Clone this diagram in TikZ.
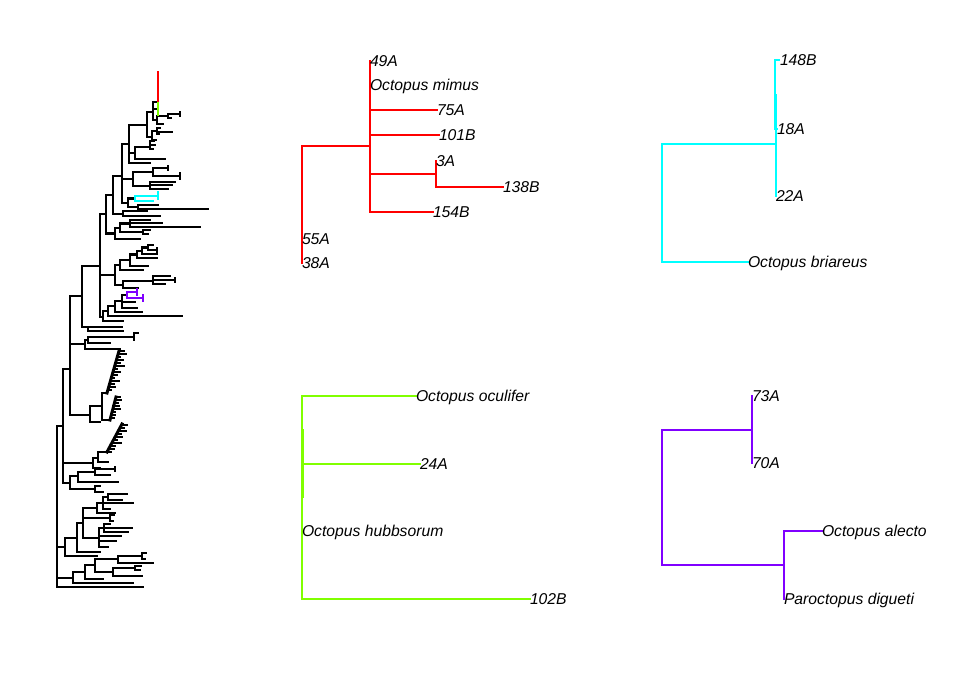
\documentclass[tikz,border=0pt]{standalone}
\usepackage{fontspec}
\setmainfont{Liberation Sans}
\definecolor{tred}{HTML}{FF0000}
\definecolor{tgreen}{HTML}{80FF00}
\definecolor{tcyan}{HTML}{00FFFF}
\definecolor{tpurple}{HTML}{8000FF}
\tikzset{
  br/.style={line width=2pt, line cap=rect},
  mbr/.style={line width=2.3pt, line cap=rect},
  lab/.style={anchor=base west, inner sep=0pt, outer sep=0pt,
    font=\fontsize{15.7}{18}\selectfont\itshape, yshift=-5.6pt},
}
\begin{document}
\begin{tikzpicture}[x=1pt,y=-1pt]
\useasboundingbox (0,0) rectangle (960,672);

% ================= main tree (left) =================
\begin{scope}[mbr,black]
\foreach \y/\a/\b in {
 587/57/143, 578/57/73, 583/73/133, 572/73/85, 579/85/103, 565/85/95,
 559/95/118, 572/95/113, 556/118/142, 563/118/153, 553/142/146, 559/142/145,
 568/113/135, 576/113/142, 566/135/141, 570/135/140,
 547/57/65, 556/65/97, 538/65/77, 552/77/100, 523/77/83, 508/83/97,
 518/83/110, 515/110/114, 521/110/113, 538/83/99, 513/97/115, 503/97/133,
 509/103/110, 497/103/108, 494/108/127, 500/108/122, 528/99/104, 536/99/121,
 541/99/116, 547/99/108, 524/104/110, 528/104/132, 532/104/128,
 426/57/63, 483/63/70, 476/70/78, 472/78/95, 469/95/115, 475/95/110,
 482/78/118, 489/70/95, 486/95/100, 492/95/103,
 463/63/93, 468/93/100, 458/93/98, 462/98/108, 452/98/107,
 369/63/70, 344/70/85, 349/85/120, 340/85/88, 337/88/134, 333/134/138, 343/88/110,
 415/70/90, 422/90/100, 406/90/102, 393/102/107, 420/102/110,
 296/70/82, 327/82/122, 331/88/123, 266/82/100,
 317/100/103, 321/103/123, 311/103/108, 316/108/182, 306/108/115,
 312/115/142, 301/115/122, 308/122/137, 302/122/135, 295/122/127,
 275/100/115, 265/115/120, 260/120/130, 270/120/143, 254.5/130/137,
 266/130/148, 251/137/142, 258/137/157, 247.5/142/148, 254/142/157,
 245/148/153, 250/148/157,
 285/115/123, 281/123/153, 288/123/138, 276/153/170, 280/153/175, 284/153/165,
 214/100/106, 195/106/113, 233.5/106/115, 228/115/120, 239/115/140,
 223.5/120/130, 220/130/150, 223/130/162, 227/130/200, 232/120/143,
 230/143/150, 234/143/148,
 214/113/123, 211/123/147, 216/123/160, 176/113/122,
 203/122/128, 198.5/128/135, 207/128/138, 205/138/158, 209/138/208,
 179/122/133, 172/133/153, 168/153/168, 176/153/180, 186/133/150,
 182/150/175, 185/150/172, 189/150/168,
 144/122/129, 125/129/147, 153/129/135, 163/129/150, 147/135/150,
 159/135/165, 141/150/154, 145/150/155, 149/150/153,
 112/147/153, 102/153/158, 109/153/156, 120/153/157, 116/157/168,
 114/168/180, 118/168/171, 124/157/163,
 137/147/152, 131/152/157, 128/157/160, 132/157/172, 134/157/159, 140/152/156}
 {\draw (\a,\y) -- (\b,\y);}
\foreach \x/\a/\b in {
 57/426/587, 73/572/583, 85/565/579, 95/559/572, 118/556/563, 113/568/576,
 142/553/559, 135/566/570,
 65/538/556, 77/523/552, 83/508/538, 97/503/513, 103/497/509, 108/494/500,
 110/515/521, 99/528/547, 104/524/532,
 63/369/483, 70/476/489, 78/472/482, 95/469/475, 115/467/471, 95/486/492,
 93/458/468, 98/452/462,
 70/296/415, 85/340/349, 88/337/343, 134/333/340,
 90/406/422, 102/393/420,
 82/266/327, 88/327/331,
 100/214/317, 103/311/321, 108/306/316, 115/301/312, 122/295/308,
 115/265/285, 120/260/270, 130/254.5/266, 137/251/258, 142/247.5/254, 148/245/250,
 157/248/252, 123/281/288, 153/276/284, 175/278/282,
 106/195/233.5, 115/228/239, 120/223.5/232, 130/220/227, 143/230/234,
 113/176/214, 123/211/216,
 122/144/203, 128/198.5/207, 138/205/209,
 133/172/186, 153/168/176, 168/166/170, 180/173/179, 150/182/189,
 129/125/163, 135/147/159, 150/141/149,
 147/112/137, 153/102/120, 157/116/124, 168/114/118, 180/112/116,
 152/131/140, 157/128/134}
 {\draw (\x,\a) -- (\x,\b);}
% ladder clusters (dense groups of short tips)
\draw[line width=3pt] (119,351) -- (107,393);
\foreach \i/\l in {0/5,1/8,2/3,3/6,4/4,5/9,6/3,7/7,8/5,9/2,10/8,11/4,12/6,13/3}
 {\draw ({119-\i*0.85},{351+\i*3}) -- ++(\l,0);}
\draw[line width=3pt] (116,397) -- (110,420);
\foreach \i/\l in {0/4,1/6,2/3,3/5,4/7,5/3,6/4,7/3}
 {\draw ({116-\i*0.8},{397+\i*3}) -- ++(\l,0);}
\draw[line width=3pt] (122,424) -- (107,452);
\foreach \i/\l in {0/5,1/3,2/7,3/4,4/6,5/3,6/8,7/4,8/5,9/3}
 {\draw ({122-\i*1.6},{425+\i*3}) -- ++(\l,0);}
\end{scope}
% coloured clades in the main tree
\draw[br,tred,line width=2.8pt] (158,72) -- (158,101);
\draw[br,tgreen,line width=2.8pt] (158,103) -- (158,115);
\draw[mbr,tcyan] (135,196) -- (135,201) (135,196) -- (158,196) (158,192) -- (158,199) (135,201) -- (153,201);
\draw[mbr,tpurple] (127,292) -- (127,298) (127,292) -- (137,292) (137,289) -- (137,295)
  (127,298) -- (143,298) (143,295) -- (143,301);

% ================= red subtree =================
\begin{scope}[br,tred]
\coordinate (R0) at (302,146);
\coordinate (N1) at (370,146);
\coordinate (N2) at (436,174);
\coordinate (t55A) at (302,239);
\coordinate (t38A) at (302,263);
\coordinate (t49A) at (370,61);
\coordinate (tmim) at (370,85);
\coordinate (t75A) at (437,110);
\coordinate (t101B) at (439,135);
\coordinate (t154B) at (433,212);
\coordinate (t3A) at (436,161);
\coordinate (t138B) at (503,187);
\draw (R0) -- (N1);
\draw (R0) |- (t55A);
\draw (R0) |- (t38A);
\foreach \t in {t49A,tmim,t75A,t101B,N2,t154B} {\draw (N1) |- (\t);}
\draw (N2) |- (t3A);
\draw (N2) |- (t138B);
\end{scope}
\node[lab] (l49A) at (t49A) {49A};
\node[lab] (lmim) at (tmim) {Octopus mimus};
\node[lab] (l75A) at (t75A) {75A};
\node[lab] (l101B) at (t101B) {101B};
\node[lab] (l3A) at (t3A) {3A};
\node[lab] (l138B) at (t138B) {138B};
\node[lab] (l154B) at (t154B) {154B};
\node[lab] (l55A) at (t55A) {55A};
\node[lab] (l38A) at (t38A) {38A};

% ================= cyan subtree =================
\begin{scope}[br,tcyan]
\coordinate (C0) at (662,144);
\coordinate (C1) at (776,144);
\coordinate (C2) at (775,95);
\coordinate (t148B) at (779,60);
\coordinate (t18A) at (777,129);
\coordinate (t22A) at (776,196);
\coordinate (tbri) at (748,262);
\draw (C0) -- (C1);
\draw (C0) |- (tbri);
\draw (C1) |- (C2);
\draw (C1) |- (t22A);
\draw (C2) |- (t148B);
\draw (C2) |- (t18A);
\end{scope}
\node[lab] (l148B) at (780,60) {148B};
\node[lab] (l18A) at (t18A) {18A};
\node[lab] (l22A) at (t22A) {22A};
\node[lab] (lbri) at (tbri) {Octopus briareus};

% ================= green subtree =================
\begin{scope}[br,tgreen]
\coordinate (G0) at (302,464);
\coordinate (tocu) at (416,396);
\coordinate (t24A) at (420,464);
\coordinate (thub) at (302,531);
\coordinate (t102B) at (530,599);
\foreach \t in {tocu,t24A,thub,t102B} {\draw (G0) |- (\t);}
\draw (303,430) -- (303,497);
\end{scope}
\node[lab] (locu) at (tocu) {Octopus oculifer};
\node[lab] (l24A) at (t24A) {24A};
\node[lab] (lhub) at (thub) {Octopus hubbsorum};
\node[lab] (l102B) at (t102B) {102B};

% ================= purple subtree =================
\begin{scope}[br,tpurple]
\coordinate (P0) at (662,497);
\coordinate (P1) at (752,430);
\coordinate (P2) at (784,565);
\coordinate (t73A) at (752,396);
\coordinate (t70A) at (752,463);
\coordinate (tale) at (822,531);
\coordinate (tdig) at (784,599);
\draw (P0) |- (P1);
\draw (P0) |- (P2);
\draw (P1) |- (t73A);
\draw (P1) |- (t70A);
\draw (P2) |- (tale);
\draw (P2) |- (tdig);
\end{scope}
\node[lab] (l73A) at (t73A) {73A};
\node[lab] (l70A) at (t70A) {70A};
\node[lab] (lale) at (tale) {Octopus alecto};
\node[lab] (ldig) at (tdig) {Paroctopus digueti};
\end{tikzpicture}
\end{document}
